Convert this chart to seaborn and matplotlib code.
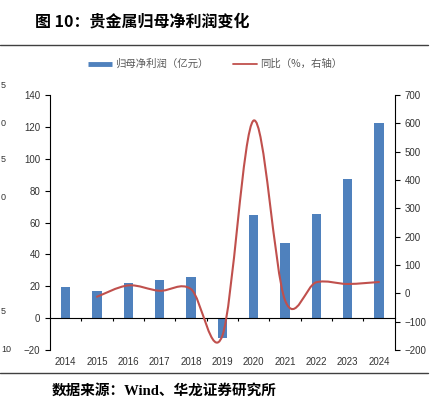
import matplotlib
matplotlib.use('Agg')
import matplotlib.pyplot as plt
from matplotlib.path import Path
from matplotlib.patches import PathPatch
from matplotlib.lines import Line2D
import numpy as np
import seaborn as sns

# ── Data ──────────────────────────────────────────────────
years = ['2014', '2015', '2016', '2017', '2018', '2019',
         '2020', '2021', '2022', '2023', '2024']
profit = [19.3, 17.3, 22.1, 24.2, 26.0, -12.5, 64.6, 47.3, 65.6, 87.1, 122.5]
yoy_years = ['2015', '2016', '2017', '2018', '2019',
             '2020', '2021', '2022', '2023', '2024']
yoy = [-12, 28, 9, 15, -150, 610, -24, 39, 33, 40]

left_ticks = [-20, 0, 20, 40, 60, 80, 100, 120, 140]
right_ticks = [-200, -100, 0, 100, 200, 300, 400, 500, 600, 700]

BLUE = '#4F81BD'
RED = '#C0504D'
TXT = '#333333'
CJK = ['Noto Sans CJK SC', 'DejaVu Sans']

sns.set_theme(style='white')
plt.rcParams['font.family'] = ['Liberation Sans', 'Noto Sans CJK SC']

fig = plt.figure(figsize=(4.39, 3.98), dpi=100)
ax = fig.add_axes([0.1139, 0.1206, 0.785, 0.6407])

# ── Bars ──────────────────────────────────────────────────
sns.barplot(x=years, y=profit, color=BLUE, saturation=1, width=0.3,
            order=years, linewidth=0, edgecolor=BLUE, ax=ax)
ax.set_xlim(-0.5, len(years) - 0.5)
ax.set_ylim(-20, 140)
ax.set_yticks(left_ticks)
ax.set_xlabel('')
ax.set_ylabel('')

for s in ['top', 'right']:
    ax.spines[s].set_visible(False)
ax.spines['left'].set_color('black')
ax.spines['left'].set_linewidth(0.8)
ax.spines['bottom'].set_position(('data', 0))
ax.spines['bottom'].set_color('black')
ax.spines['bottom'].set_linewidth(0.8)

ax.tick_params(axis='y', direction='out', length=3.5, width=0.8, pad=3.5,
               labelsize=7, colors='black', labelcolor=TXT, left=True)
ax.set_xticks(range(len(years)))
ax.set_xticks(np.arange(0.5, len(years) - 1, 1.0), minor=True)
ax.tick_params(axis='x', which='major', length=0, labelbottom=False)
ax.tick_params(axis='x', which='minor', direction='out', length=2.4,
               width=0.8, colors='black', bottom=True)

# year labels sit at the bottom of the plot, not on the zero line
sec = ax.secondary_xaxis('bottom')
sec.set_xticks(range(len(years)), labels=years)
sec.spines['bottom'].set_visible(False)
sec.tick_params(length=0, pad=5, labelsize=7, labelcolor=TXT)

# ── YoY line (right axis, smoothed) ───────────────────────
ax2 = ax.twinx()
ax2.set_ylim(-200, 700)
ax2.set_yticks(right_ticks)
for s in ['top', 'left', 'bottom']:
    ax2.spines[s].set_visible(False)
ax2.spines['right'].set_color('black')
ax2.spines['right'].set_linewidth(0.8)
ax2.tick_params(axis='y', direction='out', length=3.5, width=0.8, pad=3.5,
                labelsize=7, colors='black', labelcolor=TXT, right=True)
ax2.grid(False)
ax.grid(False)

xs = np.array([years.index(y) for y in yoy_years], dtype=float)
ys = np.array(yoy, dtype=float)
pts = np.column_stack([xs, ys])
verts = [pts[0]]
codes = [Path.MOVETO]
n = len(pts)
for i in range(n - 1):
    p0, p1 = pts[i], pts[i + 1]
    prev = pts[i - 1] if i > 0 else p0
    nxt = pts[i + 2] if i + 2 < n else p1
    verts += [p0 + (p1 - prev) / 6, p1 - (nxt - p0) / 6, p1]
    codes += [Path.CURVE4] * 3
ax2.add_patch(PathPatch(Path(verts, codes), facecolor='none',
                        edgecolor=RED, lw=1.5, transform=ax2.transData,
                        capstyle='round', joinstyle='round'))

# ── Legend ────────────────────────────────────────────────
handles = [Line2D([], [], color=BLUE, lw=3.5, solid_capstyle='butt'),
           Line2D([], [], color=RED, lw=1.3)]
leg = fig.legend(handles, ['归母净利润（亿元）', '同比（%，右轴）'],
                 loc='center', bbox_to_anchor=(0.49, 0.839), ncol=2,
                 frameon=False, handlelength=2.3, handletextpad=0.3,
                 columnspacing=2.4, prop={'family': CJK, 'size': 7.5})
for t in leg.get_texts():
    t.set_color('#595959')

# ── Title, rules and source ───────────────────────────────
fig.text(0.08, 0.945, '图 10：贵金属归母净利润变化', fontsize=11.5,
         fontweight='bold', family=CJK, va='center', ha='left', color='black')
fig.add_artist(Line2D([0, 0.975], [0.887, 0.887], color='#404040', lw=1,
                      transform=fig.transFigure))
fig.add_artist(Line2D([0, 0.975], [0.0616, 0.0616], color='#404040', lw=1,
                      transform=fig.transFigure))
fig.text(0.118, 0.018, '数据来源：Wind、华龙证券研究所', fontsize=10.5,
         fontweight='bold', family=['Liberation Serif', 'Noto Sans CJK SC'],
         va='center', ha='left', color='black')

# bits of the neighbouring chart's tick labels at the left edge
for lab, yy in zip(['5', '0', '5', '0', '5', '10'],
                   [85, 123, 160, 197, 312, 350]):
    fig.text(1 / 439, 1 - yy / 398, lab, fontsize=6.5, color=TXT,
             ha='left', va='center')

fig.savefig('out.png', dpi=100)
plt.close(fig)
